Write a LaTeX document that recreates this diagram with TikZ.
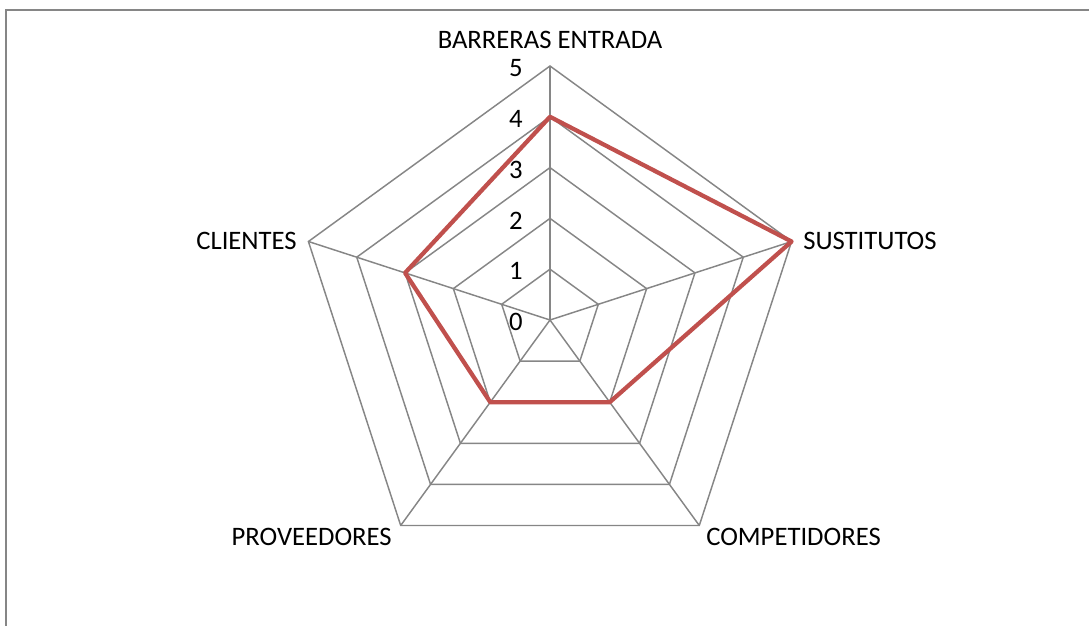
\documentclass[tikz,border=0pt]{standalone}
\usepackage{fontspec}
\setmainfont{Carlito}
\definecolor{gridgray}{HTML}{868686}
\definecolor{seriesred}{HTML}{C0504D}
\begin{document}
\begin{tikzpicture}
[x=0.75pt,y=0.75pt,
frame/.style={line width=2pt,gridgray},
grid/.style={line width=1.1pt,gridgray},
series/.style={line width=3.2pt,seriesred,line join=round},
axislabel/.style={inner sep=0pt,font=\fontsize{20}{23}\selectfont},
tick/.style={inner sep=0pt,font=\fontsize{20}{23}\selectfont}]

\useasboundingbox (-550,-305) rectangle (539,320);

%draw the frame
\draw[frame] (-544,-306) -- (-544,310) -- (540,310);

%draw the pentagons
\foreach \r in {1,...,5}
{
\pgfmathsetmacro{\rr}{\r*50.8}
\draw[grid] (90:\rr) -- (18:\rr) -- (-54:\rr) -- (-126:\rr) -- (162:\rr) -- cycle;
}

%draw the spokes
\foreach \a in {90,18,-54,-126,162}
\draw[grid] (0,0) -- (\a:254);

%draw the scale
\foreach \r in {0,...,5}
\node[tick] (tick\r) at (-34,\r*50.8-2) {\r};

%draw the axis labels
\node[axislabel] (barreras) at (0,280) {BARRERAS ENTRADA};
\node[axislabel,anchor=west] (sustitutos) at (253,79) {SUSTITUTOS};
\node[axislabel,anchor=west] (competidores) at (156,-217) {COMPETIDORES};
\node[axislabel,anchor=east] (proveedores) at (-158,-217) {PROVEEDORES};
\node[axislabel,anchor=east] (clientes) at (-253,79) {CLIENTES};

%draw the values
\draw[series] (90:4*50.8) -- (18:5*50.8) -- (-54:2*50.8) -- (-126:2*50.8) -- (162:3*50.8) -- cycle;

\end{tikzpicture}
\end{document}
